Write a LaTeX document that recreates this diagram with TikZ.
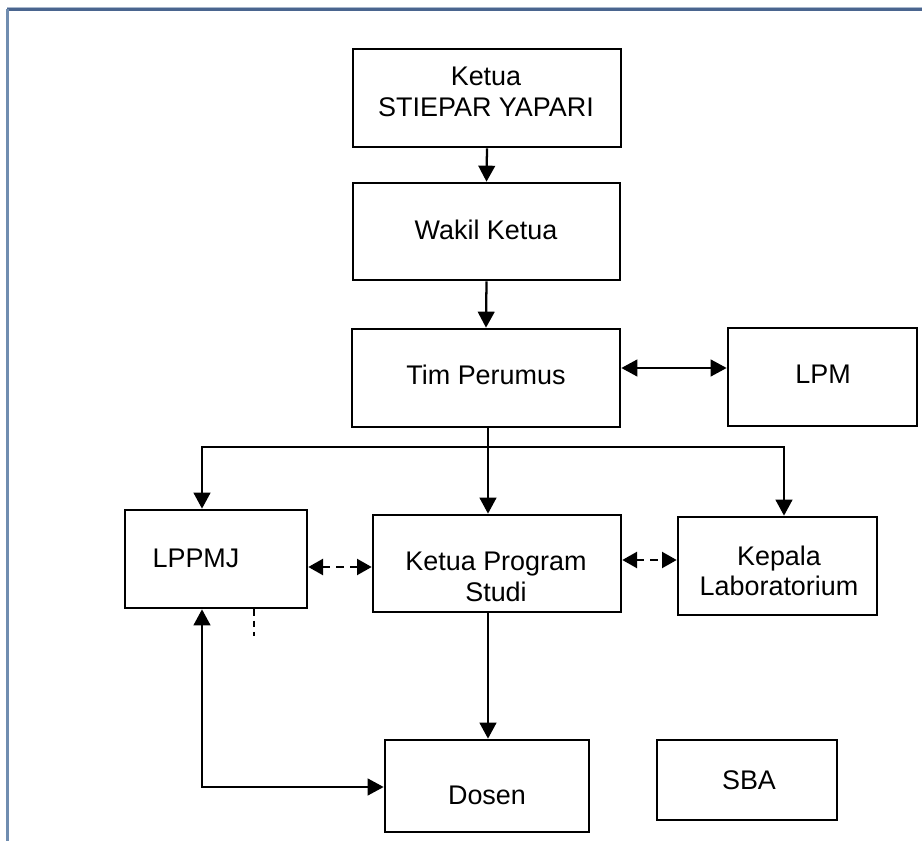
\documentclass[tikz,border=0pt]{standalone}
\usepackage{fontspec}
\setmainfont{Liberation Sans}
\usetikzlibrary{arrows.meta}
\begin{document}
\begin{tikzpicture}[x=0.75pt,y=-0.75pt,
  box/.style={draw=black,line width=2pt,inner sep=0pt,fill=none},
  txt/.style={align=center,inner sep=0pt,font=\fontsize{20.2pt}{23pt}\selectfont},
  conn/.style={draw=black,line width=1.7pt},
  arr/.style={conn,-{Triangle[length=12pt,width=12.5pt]}},
  dbl/.style={conn,{Triangle[length=12pt,width=12.5pt]}-{Triangle[length=12pt,width=12.5pt]}},
  dashdbl/.style={conn,dash pattern=on 6pt off 4.5pt,{Triangle[length=11pt,width=12pt]}-{Triangle[length=11pt,width=12pt]}},
  shortdash/.style={conn,line width=1.5pt,dash pattern=on 5pt off 3.5pt}]
\useasboundingbox (0,0) rectangle (922,841);
\fill[white] (0,0) rectangle (922,841);
% frame
\draw[line width=0.75pt,color={rgb,255:red,170;green,185;blue,205}] (7,8) -- (922,8);
\draw[line width=1.6pt,color={rgb,255:red,74;green,101;blue,143}] (7,9.5) -- (922,9.5);
\draw[line width=1.8pt,color={rgb,255:red,112;green,141;blue,176}] (7.5,9) -- (7.5,841);
% boxes
\node[box,minimum width=201pt,minimum height=73.5pt] (ketua) at (487,98) {};
\node[box,minimum width=200.25pt,minimum height=72.75pt] (wakil) at (486.5,231.5) {};
\node[box,minimum width=201pt,minimum height=73.5pt] (tim) at (486,378) {};
\node[box,minimum width=141.75pt,minimum height=73.5pt] (lpm) at (822.5,377) {};
\node[box,minimum width=136.5pt,minimum height=73.5pt] (lppmj) at (216,559) {};
\node[box,minimum width=186pt,minimum height=72.75pt] (kps) at (497,563.5) {};
\node[box,minimum width=149.25pt,minimum height=73.5pt] (lab) at (777.5,566) {};
\node[box,minimum width=153pt,minimum height=69pt] (dosen) at (487,786) {};
\node[box,minimum width=135pt,minimum height=60pt] (sba) at (747,780) {};
% texts
\node[txt] (tketua) at (486,92) {Ketua\\STIEPAR YAPARI};
\node[txt] (twakil) at (486,230) {Wakil Ketua};
\node[txt] (ttim) at (486,375) {Tim Perumus};
\node[txt] (tlpm) at (823,374) {LPM};
\node[txt] (tlppmj) at (196,558) {LPPMJ};
\node[txt] (tkps) at (496,577) {Ketua Program\\Studi};
\node[txt] (tlab) at (779,571) {Kepala\\Laboratorium};
\node[txt] (tdosen) at (487,795) {Dosen};
\node[txt] (tsba) at (749,780) {SBA};
% helper coordinates
\coordinate (hub) at (488,447);
\coordinate (lx) at (202,447);
\coordinate (rx) at (784,447);
\coordinate (ylpm) at (0,368);
\coordinate (yd1) at (0,567);
\coordinate (yd2) at (0,560);
\coordinate (ydos) at (0,787);
\coordinate (sx) at (254,608);
\coordinate (send) at (254,636);
% connectors
\draw[arr] (ketua.south) -- (wakil.north);
\draw[arr] (wakil.south) -- (tim.north);
\draw[dbl] (tim.east |- ylpm) -- (lpm.west |- ylpm);
\draw[conn] (tim.south -| hub) -- (hub);
\draw[arr] (hub) -- (kps.north -| hub);
\draw[arr] (hub) -| (lppmj.north -| lx);
\draw[arr] (hub) -| (lab.north -| rx);
\draw[dashdbl] (lppmj.east |- yd1) -- (kps.west |- yd1);
\draw[dashdbl] (kps.east |- yd2) -- (lab.west |- yd2);
\draw[arr] (kps.south -| hub) -- (dosen.north -| hub);
\draw[dbl] (dosen.west |- ydos) -| (lppmj.south -| lx);
\draw[shortdash] (lppmj.south -| sx) -- (send);
\end{tikzpicture}
\end{document}
